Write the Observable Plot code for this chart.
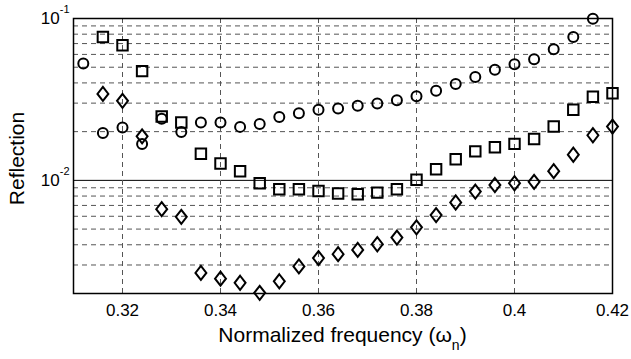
<!DOCTYPE html>
<html><head><meta charset="utf-8">
<script src="https://cdn.jsdelivr.net/npm/d3@7"></script>
<script src="https://cdn.jsdelivr.net/npm/@observablehq/plot@0.6"></script>
<style>html,body{margin:0;padding:0;background:#fff} svg{display:block}</style>
</head><body><div id="chart"></div>
<script>
// ---- data ----
const circleFreq = [0.312,0.316,0.320,0.324,0.328,0.332,0.336,0.340,0.344,0.348,0.352,0.356,0.360,0.364,0.368,0.372,0.376,0.380,0.384,0.388,0.392,0.396,0.400,0.404,0.408,0.412,0.416];
const circleRefl = [0.0527,0.0196,0.0212,0.0168,0.0240,0.0199,0.0228,0.0228,0.0214,0.0223,0.0246,0.0260,0.0273,0.0278,0.0289,0.0298,0.0313,0.0331,0.0358,0.0394,0.0435,0.0482,0.0522,0.0560,0.0646,0.0768,0.0996];
const squareFreq = [0.316,0.320,0.324,0.328,0.332,0.336,0.340,0.344,0.348,0.352,0.356,0.360,0.364,0.368,0.372,0.376,0.380,0.384,0.388,0.392,0.396,0.400,0.404,0.408,0.412,0.416,0.420];
const squareRefl = [0.0768,0.0683,0.0473,0.0248,0.0228,0.0146,0.0127,0.0114,0.0096,0.0088,0.0088,0.0086,0.0083,0.0082,0.0084,0.0088,0.0101,0.0117,0.0135,0.0151,0.0160,0.0168,0.0180,0.0215,0.0273,0.0329,0.0345];
const diamondFreq = [0.316,0.320,0.324,0.328,0.332,0.336,0.340,0.344,0.348,0.352,0.356,0.360,0.364,0.368,0.372,0.376,0.380,0.384,0.388,0.392,0.396,0.400,0.404,0.408,0.412,0.416,0.420];
const diamondRefl = [0.0342,0.0310,0.0187,0.00664,0.00595,0.00268,0.00247,0.00233,0.00202,0.00238,0.00294,0.00331,0.00350,0.00372,0.00403,0.00443,0.00513,0.00610,0.00730,0.00853,0.00936,0.00960,0.00980,0.0114,0.0144,0.0190,0.0215];

const xTicks = [0.32,0.34,0.36,0.38,0.40,0.42];
const xGridTicks = [0.32,0.34,0.36,0.38,0.40];
const yLabelTicks = [0.1,0.01];
const yLabelExp = ["-1","-2"];
const yMinorGrid = [0.002,0.003,0.004,0.005,0.006,0.007,0.008,0.009,0.02,0.03,0.04,0.05,0.06,0.07,0.08,0.09];
const yMajorGrid = [0.01];
const xLabel = "Normalized frequency (ω";
const xLabelSub = "n";
const yLabel = "Reflection";

// ---- build ----
const circles = circleFreq.map((f,i)=>({f, v: circleRefl[i]}));
const squares = squareFreq.map((f,i)=>({f, v: squareRefl[i]}));
const diamonds = diamondFreq.map((f,i)=>({f, v: diamondRefl[i]}));

const diamondSym = {draw(ctx, size){ const r = Math.sqrt(size/Math.PI); const h = r*1.35, w = r*1.05;
  ctx.moveTo(0,-h); ctx.lineTo(w,0); ctx.lineTo(0,h); ctx.lineTo(-w,0); ctx.closePath(); }};

const font = "'Liberation Sans', Arial, Helvetica, sans-serif";
const dotStyle = {stroke:"black", strokeWidth:2, fill:"none"};

const plot = Plot.plot({
  width: 631, height: 359,
  marginLeft: 73, marginRight: 19, marginTop: 18, marginBottom: 66,
  style: {fontFamily: font, fontSize: "17px", color: "black", background: "white"},
  x: {domain: [0.31, 0.42]},
  y: {type: "log", domain: [0.002, 0.1]},
  marks: [
    Plot.ruleY(yMinorGrid, {stroke:"#555", strokeWidth:1, strokeDasharray:"5,4"}),
    Plot.ruleY(yMajorGrid, {stroke:"black", strokeWidth:1}),
    Plot.ruleX(xGridTicks, {stroke:"#555", strokeWidth:1, strokeDasharray:"5,4"}),
    Plot.axisX({ticks: xTicks, tickFormat: d => String(d), tickSize: 0, tickPadding: 10, label: null}),
    Plot.axisY({ticks: yLabelTicks, tickFormat: () => "10", tickSize: 0, tickPadding: 4, label: null}),
    Plot.dot(circles, {x:"f", y:"v", r:5, symbol:"circle", ...dotStyle}),
    Plot.dot(squares, {x:"f", y:"v", r:5.9, symbol:"square", ...dotStyle}),
    Plot.dot(diamonds, {x:"f", y:"v", r:5.2, symbol: diamondSym, ...dotStyle}),
    Plot.frame({stroke:"black", strokeWidth:1.5})
  ]
});

const svg = d3.select(plot);
// superscript exponents on y tick labels
svg.selectAll('g[aria-label="y-axis tick label"] text').each(function(d, i){
  const t = d3.select(this);
  t.text(null);
  t.append("tspan").text("10");
  t.append("tspan").attr("dy", -11).attr("font-size", 11).text(yLabelExp[i]);
});
const xs = plot.scale("x").range, ys = plot.scale("y").range;
const xt = svg.append("text").attr("x", (xs[0]+xs[1])/2).attr("y", 342)
  .attr("text-anchor","middle").attr("font-size", 21).attr("font-family", font).attr("fill","black");
xt.append("tspan").text(xLabel);
xt.append("tspan").attr("dy", 8).attr("font-size", 14).text(xLabelSub);
xt.append("tspan").attr("dy", -8).text(")");
svg.append("text").attr("transform", `translate(24,${(ys[0]+ys[1])/2 + 3}) rotate(-90)`)
  .attr("text-anchor","middle").attr("font-size", 21).attr("font-family", font).attr("fill","black").text(yLabel);

document.getElementById("chart").append(plot);
</script>
</body></html>
